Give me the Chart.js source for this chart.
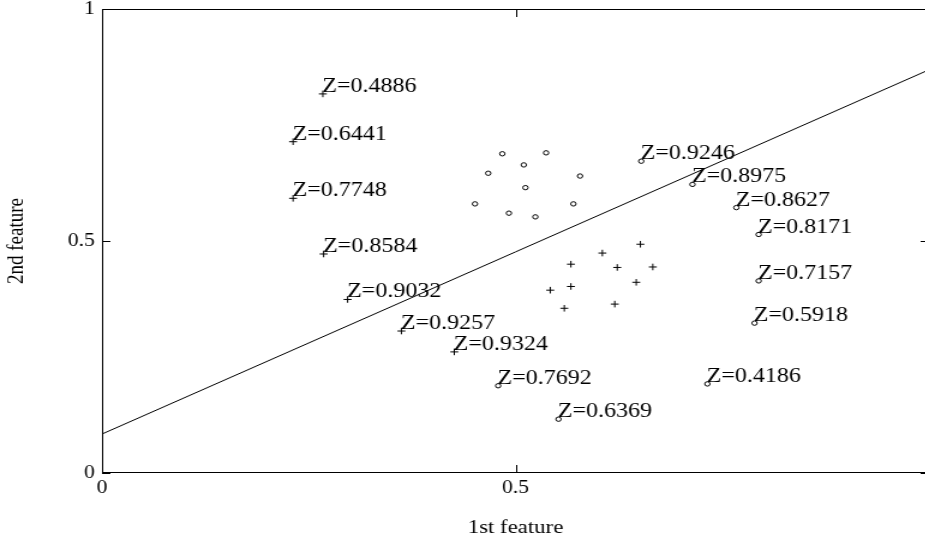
<!DOCTYPE html>
<html>
<head>
<meta charset="utf-8">
<script src="https://cdn.jsdelivr.net/npm/chart.js@4/dist/chart.umd.min.js"></script>
<style>
  body { margin: 0; overflow: hidden; background: #fff; }
</style>
</head>
<body>
<!-- the original figure is stretched sideways, so the canvas is drawn narrow and widened by css -->
<canvas id="featChart" width="779" height="540" style="width:934.8px;height:540px"></canvas>
<script>
// labelled '+' points
const crossLabeledX = [0.267, 0.231, 0.231, 0.268, 0.297, 0.362, 0.426];
const crossLabeledY = [0.817, 0.714, 0.592, 0.472, 0.374, 0.306, 0.261];
const crossZ = [0.4886, 0.6441, 0.7748, 0.8584, 0.9032, 0.9257, 0.9324];

// labelled 'o' points
const circleLabeledX = [0.652, 0.714, 0.767, 0.794, 0.794, 0.789, 0.732, 0.479, 0.552];
const circleLabeledY = [0.672, 0.622, 0.572, 0.514, 0.414, 0.323, 0.192, 0.188, 0.116];
const circleZ = [0.9246, 0.8975, 0.8627, 0.8171, 0.7157, 0.5918, 0.4186, 0.7692, 0.6369];

// unlabelled clusters
const crossX = [0.651, 0.605, 0.567, 0.623, 0.666, 0.646, 0.567, 0.542, 0.559, 0.620];
const crossY = [0.493, 0.474, 0.450, 0.443, 0.444, 0.411, 0.402, 0.394, 0.355, 0.364];
const circleX = [0.484, 0.537, 0.510, 0.467, 0.578, 0.512, 0.451, 0.570, 0.492, 0.524];
const circleY = [0.688, 0.690, 0.664, 0.646, 0.640, 0.615, 0.580, 0.580, 0.560, 0.552];

// separating line
const boundaryX = [0, 1];
const boundaryY = [0.084, 0.869];

const axisTicks = [0, 0.5, 1];

function pts(xs, ys) {
    return xs.map((x, i) => ({x: x, y: ys[i]}));
}

const serif = 'Liberation Serif';

const zLabels = {
    id: 'zLabels',
    afterDatasetsDraw(chart) {
        const ctx = chart.ctx;
        ctx.save();
        ctx.fillStyle = '#000';
        ctx.font = '20px "' + serif + '"';
        ctx.textAlign = 'left';
        ctx.textBaseline = 'alphabetic';
        chart.data.datasets.forEach((ds, i) => {
            if (!ds.zValues) return;
            chart.getDatasetMeta(i).data.forEach((p, j) => {
                ctx.fillText('Z=' + ds.zValues[j].toFixed(4), p.x - 0.5, p.y - 2);
            });
        });
        ctx.restore();
    }
};

const axesBox = {
    id: 'axesBox',
    afterDraw(chart) {
        const ctx = chart.ctx;
        const a = chart.chartArea;
        const xs = chart.scales.x, ys = chart.scales.y;
        ctx.save();
        ctx.strokeStyle = '#000';
        ctx.lineWidth = 1;
        ctx.strokeRect(a.left + 0.5, a.top + 0.5, a.right - a.left - 1, a.bottom - a.top - 1);
        ctx.beginPath();
        axisTicks.forEach(v => {
            const px = Math.round(xs.getPixelForValue(v)) + 0.5;
            ctx.moveTo(px, a.bottom); ctx.lineTo(px, a.bottom - 8);
            ctx.moveTo(px, a.top); ctx.lineTo(px, a.top + 8);
            const py = Math.round(ys.getPixelForValue(v)) + 0.5;
            ctx.moveTo(a.left, py); ctx.lineTo(a.left + 7, py);
            ctx.moveTo(a.right, py); ctx.lineTo(a.right - 7, py);
        });
        ctx.stroke();
        ctx.restore();
    }
};

const ctx = document.getElementById('featChart').getContext('2d');
new Chart(ctx, {
    type: 'scatter',
    data: {
        datasets: [
            {
                data: pts(boundaryX, boundaryY),
                showLine: true,
                borderColor: '#000',
                borderWidth: 1,
                pointRadius: 0
            },
            {
                data: pts(crossLabeledX, crossLabeledY),
                zValues: crossZ,
                pointStyle: 'cross',
                pointRadius: 3.3,
                borderColor: '#000',
                borderWidth: 1
            },
            {
                data: pts(circleLabeledX, circleLabeledY),
                zValues: circleZ,
                pointStyle: 'circle',
                pointRadius: 2.2,
                borderColor: '#000',
                backgroundColor: 'rgba(0,0,0,0)',
                borderWidth: 1
            },
            {
                data: pts(crossX, crossY),
                pointStyle: 'cross',
                pointRadius: 3.3,
                borderColor: '#000',
                borderWidth: 1
            },
            {
                data: pts(circleX, circleY),
                pointStyle: 'circle',
                pointRadius: 2.2,
                borderColor: '#000',
                backgroundColor: 'rgba(0,0,0,0)',
                borderWidth: 1
            }
        ]
    },
    options: {
        responsive: false,
        animation: false,
        devicePixelRatio: 1,
        layout: { padding: { left: 0, right: 0, top: 9, bottom: 0 } },
        plugins: { legend: { display: false }, tooltip: { enabled: false } },
        scales: {
            x: {
                type: 'linear',
                min: 0,
                max: 1,
                grid: { display: false, drawTicks: false },
                border: { display: false },
                afterBuildTicks: s => { s.ticks = axisTicks.map(v => ({value: v})); },
                afterFit: s => { s.height = 67; s.paddingLeft = 0; s.paddingRight = 0; },
                ticks: {
                    color: '#000',
                    padding: 4,
                    maxRotation: 0,
                    font: { family: serif, size: 18 },
                    callback: v => String(v)
                },
                title: {
                    display: true,
                    text: '1st feature',
                    color: '#000',
                    font: { family: serif, size: 19 },
                    padding: { top: 0, bottom: 1 }
                }
            },
            y: {
                type: 'linear',
                min: 0,
                max: 1,
                grid: { display: false, drawTicks: false },
                border: { display: false },
                afterBuildTicks: s => { s.ticks = axisTicks.map(v => ({value: v})); },
                afterFit: s => { s.width = 85; s.paddingTop = 0; s.paddingBottom = 0; },
                ticks: {
                    color: '#000',
                    padding: 6,
                    font: { family: serif, size: 18 },
                    callback: v => String(v)
                },
                title: {
                    display: true,
                    text: '2nd feature',
                    color: '#000',
                    font: { family: serif, size: 19 },
                    padding: { top: 3, bottom: 0 }
                }
            }
        }
    },
    plugins: [zLabels, axesBox]
});
</script>
</body>
</html>
